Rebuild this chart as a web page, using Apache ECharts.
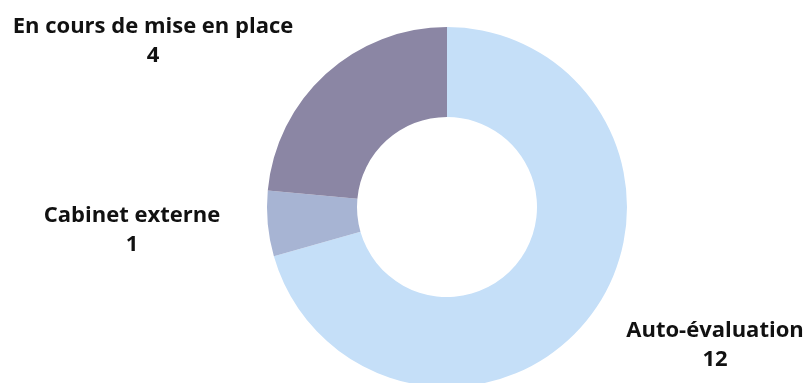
<!DOCTYPE html>
<html>
<head>
<meta charset="utf-8">
<script src="https://cdn.jsdelivr.net/npm/echarts@6/dist/echarts.min.js"></script>
<style>
  html, body { margin: 0; padding: 0; background: #fff; }
  #chart { width: 807px; height: 383px; }
</style>
</head>
<body>
<div id="chart"></div>
<script>
const categories = ["Auto-évaluation", "Cabinet externe", "En cours de mise en place"];
const values = [12, 1, 4];
const colors = ["#c5dff8", "#a7b4d3", "#8b86a4"];

// where each label block sits (centre of the two lines)
const labelSpots = [[715, 345], [132, 230], [153, 41]];

const chart = echarts.init(document.getElementById("chart"));

chart.setOption({
  animation: false,
  color: colors,
  series: [
    {
      type: "pie",
      center: [447, 207],
      radius: [90, 180],
      startAngle: 90,
      clockwise: true,
      label: {
        show: true,
        position: "outside",
        formatter: "{b}\n{c}",
        fontFamily: "Open Sans",
        fontWeight: "bold",
        fontSize: 22,
        lineHeight: 29,
        color: "#111",
        align: "center",
        overflow: "none",
        width: 400,
      },
      labelLine: { show: false },
      labelLayout: function (p) {
        const s = labelSpots[p.dataIndex];
        return { x: s[0], y: s[1], align: "center", verticalAlign: "middle" };
      },
      itemStyle: { borderWidth: 0 },
      emphasis: { disabled: true },
      data: categories.map((name, i) => ({ name: name, value: values[i] })),
    },
  ],
});
</script>
</body>
</html>
